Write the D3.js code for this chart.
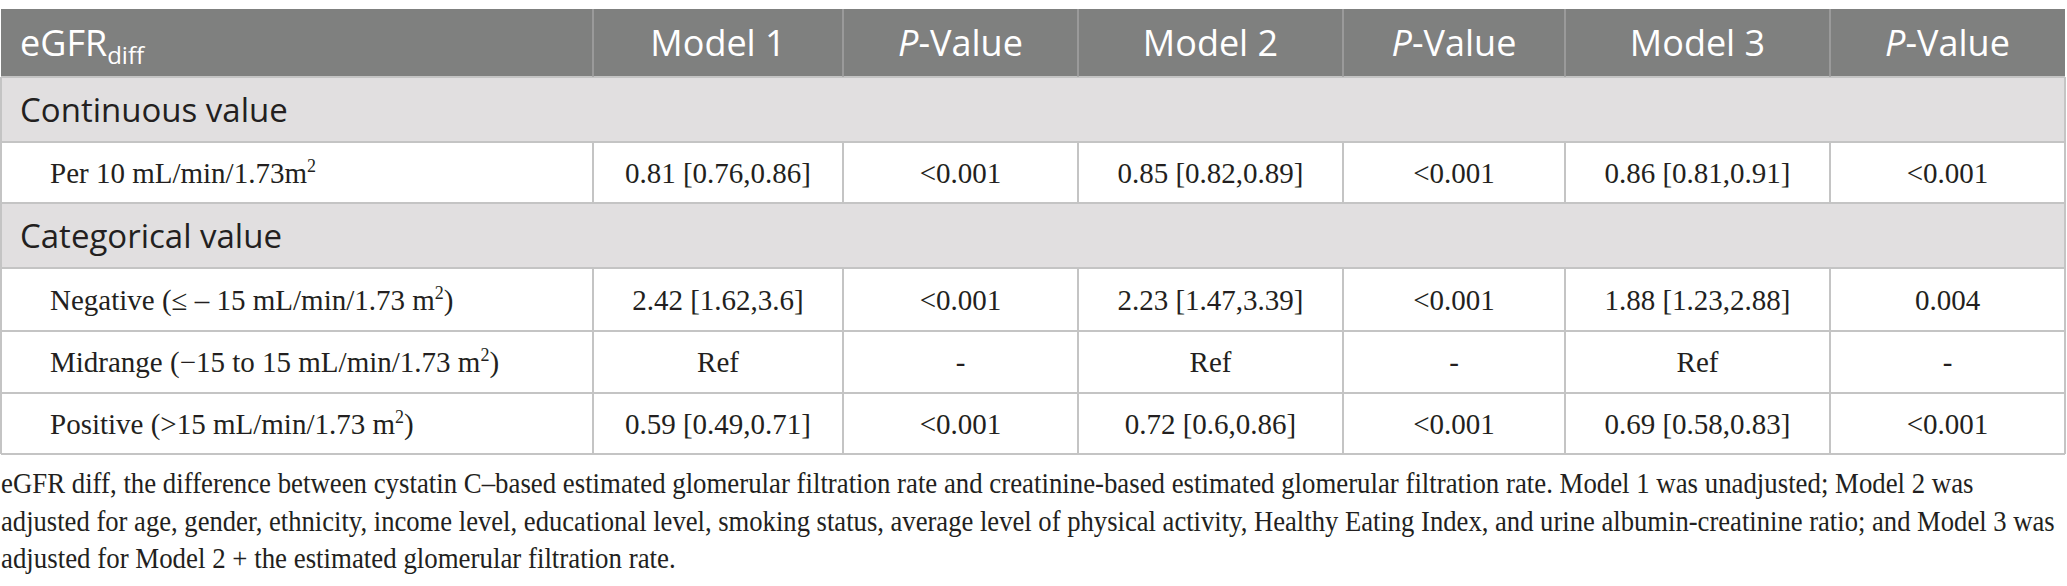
<!DOCTYPE html>
<html>
<head>
<meta charset="utf-8">
<script src="https://cdn.jsdelivr.net/npm/d3@7"></script>
<style>
  html, body { margin: 0; padding: 0; background: #fff; }
  svg { display: block; }
</style>
</head>
<body>
<svg id="chart"></svg>
<script>
// table content
const headers = ['eGFR', 'Model 1', 'P-Value', 'Model 2', 'P-Value', 'Model 3', 'P-Value']
const sections = ['Continuous value', 'Categorical value']
const rowLabels = [
  'Per 10 mL/min/1.73m|2|',
  'Negative (≤ – 15 mL/min/1.73 m|2|)',
  'Midrange (−15 to 15 mL/min/1.73 m|2|)',
  'Positive (>15 mL/min/1.73 m|2|)',
]
const rowSection = [0, 1, 1, 1]
const model1 = ['0.81 [0.76,0.86]', '2.42 [1.62,3.6]', 'Ref', '0.59 [0.49,0.71]']
const pValue1 = ['<0.001', '<0.001', '-', '<0.001']
const model2 = ['0.85 [0.82,0.89]', '2.23 [1.47,3.39]', 'Ref', '0.72 [0.6,0.86]']
const pValue2 = ['<0.001', '<0.001', '-', '<0.001']
const model3 = ['0.86 [0.81,0.91]', '1.88 [1.23,2.88]', 'Ref', '0.69 [0.58,0.83]']
const pValue3 = ['<0.001', '0.004', '-', '<0.001']
const footnote = [
  'eGFR diff, the difference between cystatin C–based estimated glomerular filtration rate and creatinine-based estimated glomerular filtration rate. Model 1 was unadjusted; Model 2 was',
  'adjusted for age, gender, ethnicity, income level, educational level, smoking status, average level of physical activity, Healthy Eating Index, and urine albumin-creatinine ratio; and Model 3 was',
  'adjusted for Model 2 + the estimated glomerular filtration rate.',
]

// layout
const width = 2067
const height = 586
const colWidths = [592, 250, 235, 265, 222, 265, 235]
const tableLeft = 1
const tableTop = 9
const headerHeight = 68
const sectionHeight = 65
const dataHeights = [61, 63, 62, 61]
const footLineEnds = [1975, 2055, 676] // right end of each footnote line
const sansFont = "'Open Sans', 'Noto Sans', sans-serif"
const serifFont = "'Liberation Serif', 'Times New Roman', serif"
const borderColor = '#c4c4c4'

const svg = d3.select('#chart').attr('width', width).attr('height', height)

// column scale: index -> left edge
const colEdges = d3.cumsum([tableLeft].concat(colWidths))
const x = d3.scaleOrdinal().domain(d3.range(headers.length)).range(colEdges)
const xMid = (i) => x(i) + colWidths[i] / 2
const tableRight = colEdges[colEdges.length - 1]

// build the row sequence: header, section, data...
const rows = [{ type: 'header', h: headerHeight }]
rowLabels.forEach((label, i) => {
  if (i === 0 || rowSection[i] !== rowSection[i - 1]) {
    rows.push({ type: 'section', h: sectionHeight, label: sections[rowSection[i]] })
  }
  rows.push({
    type: 'data',
    h: dataHeights[i],
    label: label,
    cells: [model1[i], pValue1[i], model2[i], pValue2[i], model3[i], pValue3[i]],
  })
})
const rowEdges = d3.cumsum([tableTop].concat(rows.map((r) => r.h)))
const y = d3.scaleOrdinal().domain(d3.range(rows.length)).range(rowEdges)
rows.forEach((r, i) => {
  r.y = y(i)
  r.mid = r.y + r.h / 2
})
const tableBottom = rowEdges[rowEdges.length - 1]

// row backgrounds
svg
  .append('g')
  .selectAll('rect')
  .data(rows)
  .join('rect')
  .attr('x', tableLeft)
  .attr('y', (d) => d.y)
  .attr('width', tableRight - tableLeft)
  .attr('height', (d) => d.h)
  .attr('fill', (d) => (d.type === 'header' ? '#7f807f' : d.type === 'section' ? '#e1dfe0' : '#ffffff'))

// horizontal rules
const lines = svg.append('g').attr('stroke', borderColor).attr('stroke-width', 2)
lines
  .selectAll('line.h')
  .data(rowEdges.slice(1))
  .join('line')
  .attr('class', 'h')
  .attr('x1', tableLeft)
  .attr('x2', tableRight)
  .attr('y1', (d) => d)
  .attr('y2', (d) => d)

// vertical rules in data rows
const dataRows = rows.filter((r) => r.type === 'data')
dataRows.forEach((r) => {
  lines
    .append('g')
    .selectAll('line')
    .data(colEdges)
    .join('line')
    .attr('x1', (d) => d)
    .attr('x2', (d) => d)
    .attr('y1', r.y)
    .attr('y2', r.y + r.h)
})
// outer sides of section rows
rows
  .filter((r) => r.type === 'section')
  .forEach((r) => {
    lines
      .append('g')
      .selectAll('line')
      .data([tableLeft, tableRight])
      .join('line')
      .attr('x1', (d) => d)
      .attr('x2', (d) => d)
      .attr('y1', r.y)
      .attr('y2', r.y + r.h)
  })

// header dividers
svg
  .append('g')
  .attr('stroke', '#a3a3a3')
  .attr('stroke-width', 1.5)
  .selectAll('line')
  .data(colEdges.slice(1, -1))
  .join('line')
  .attr('x1', (d) => d)
  .attr('x2', (d) => d)
  .attr('y1', tableTop)
  .attr('y2', tableTop + headerHeight)

// header texts
const head = rows[0]
const headerText = svg
  .append('g')
  .attr('font-family', sansFont)
  .attr('font-size', 36)
  .attr('fill', '#ffffff')
  .selectAll('text')
  .data(headers)
  .join('text')
  .attr('x', (d, i) => (i === 0 ? tableLeft + 19 : xMid(i)))
  .attr('y', head.mid + 13)
  .attr('text-anchor', (d, i) => (i === 0 ? 'start' : 'middle'))

headerText.each(function (d, i) {
  const t = d3.select(this)
  if (i === 0) {
    t.append('tspan').text(d)
    t.append('tspan').attr('font-size', 24).attr('dy', 8).text('diff')
  } else if (d === 'P-Value') {
    t.append('tspan').attr('font-style', 'italic').text('P')
    t.append('tspan').text('-Value')
  } else {
    t.text(d)
  }
})

// section labels
svg
  .append('g')
  .attr('font-family', sansFont)
  .attr('font-size', 33)
  .attr('fill', '#231f20')
  .selectAll('text')
  .data(rows.filter((r) => r.type === 'section'))
  .join('text')
  .attr('x', tableLeft + 19)
  .attr('y', (d) => d.mid + 12)
  .text((d) => d.label)

// row labels, with superscripts marked by |...|
const bodyText = svg
  .append('g')
  .attr('font-family', serifFont)
  .attr('font-size', 29)
  .attr('fill', '#231f20')

bodyText
  .selectAll('text.label')
  .data(dataRows)
  .join('text')
  .attr('class', 'label')
  .attr('x', tableLeft + 49)
  .attr('y', (d) => d.mid + 10)
  .each(function (d) {
    const t = d3.select(this)
    d.label.split('|').forEach((part, k) => {
      if (k % 2 === 1) {
        t.append('tspan').attr('font-size', 18).attr('dy', -11).text(part)
      } else if (k > 0) {
        t.append('tspan').attr('dy', 11).text(part)
      } else {
        t.append('tspan').text(part)
      }
    })
  })

// data cells
dataRows.forEach((r) => {
  bodyText
    .append('g')
    .selectAll('text')
    .data(r.cells)
    .join('text')
    .attr('x', (d, i) => xMid(i + 1))
    .attr('y', r.mid + 10)
    .attr('text-anchor', 'middle')
    .text((d) => d)
})

// footnote: set in a narrowed serif, each line squeezed to its measured end
const footLines = svg
  .append('g')
  .attr('font-family', serifFont)
  .attr('fill', '#231f20')
  .attr('font-size', 30)
  .selectAll('text')
  .data(footnote)
  .join('text')
  .attr('x', 0)
  .attr('y', 0)
  .text((d) => d)

footLines.each(function (d, i) {
  const natural = this.getComputedTextLength()
  const sx = (footLineEnds[i] - tableLeft) / natural
  d3.select(this).attr(
    'transform',
    `translate(${tableLeft},${tableBottom + 39 + i * 37.5}) scale(${sx},1)`
  )
})
</script>
</body>
</html>
